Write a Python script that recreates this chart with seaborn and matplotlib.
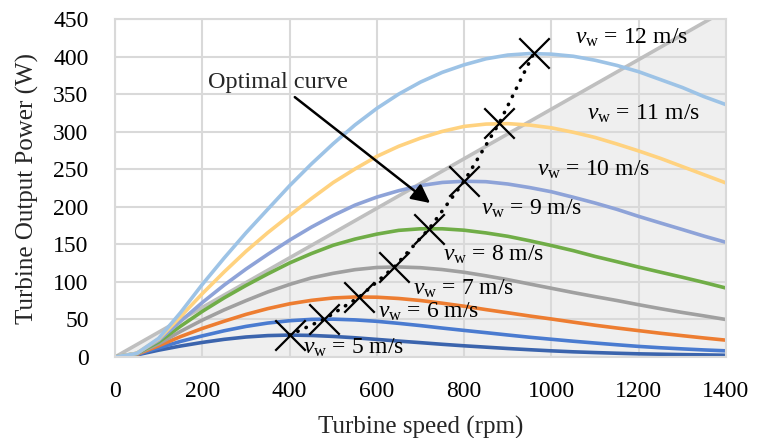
import numpy as np
import pandas as pd
import matplotlib
matplotlib.use("Agg")
import matplotlib.pyplot as plt
import seaborn as sns

# turbine speed grid (rpm)
rpm = [0, 50, 100, 150, 200, 250, 300, 350, 400, 450, 500, 550, 600, 650, 700,
       750, 800, 850, 900, 950, 1000, 1050, 1100, 1150, 1200, 1250, 1300, 1350, 1400]

# turbine output power (W), one list per wind speed
p5 = [0, 2.8, 9.1, 14.6, 19.4, 23.5, 26.6, 28.5, 29.2, 28.7, 27.4, 25.6, 23.4, 21.2, 19.1,
      16.9, 14.9, 13.1, 11.3, 9.7, 8.2, 6.9, 5.9, 5.0, 4.2, 3.7, 3.2, 2.8, 2.3]
p6 = [0, 3.1, 12.1, 20.7, 28.1, 34.9, 40.7, 45.2, 48.3, 50.1, 50.4, 49.4, 47.5, 44.8, 41.8,
      38.5, 35.4, 32.4, 29.3, 26.3, 23.6, 21.0, 18.6, 16.3, 14.1, 12.3, 10.8, 9.4, 8.2]
p7 = [0, 3.6, 14.9, 27.1, 38.0, 47.6, 56.7, 64.4, 70.8, 75.4, 78.6, 79.9, 79.6, 77.9, 75.2,
      71.6, 67.6, 63.1, 58.9, 54.6, 50.6, 46.4, 42.3, 38.6, 35.1, 31.6, 28.4, 25.3, 22.4]
p8 = [0, 4.2, 17.5, 34.0, 49.1, 62.7, 75.0, 86.6, 96.6, 105.3, 111.4, 116.3, 119.2, 119.9, 118.9,
      116.4, 112.8, 108.1, 103.0, 97.2, 91.5, 85.8, 80.4, 75.2, 69.6, 64.3, 59.3, 54.7, 49.9]
p9 = [0, 4.7, 20.0, 40.9, 60.7, 78.7, 95.2, 110.6, 125.2, 137.7, 148.8, 157.0, 163.6, 168.6, 170.7,
      170.7, 168.8, 165.2, 160.7, 154.8, 148.4, 141.6, 133.9, 126.9, 119.7, 112.9, 106.2, 99.2, 91.8]
p10 = [0, 4.9, 22.2, 47.4, 72.5, 95.7, 117.0, 136.7, 155.6, 172.9, 188.4, 202.2, 212.9, 221.4, 228.2,
       232.4, 234.0, 233.4, 230.3, 225.6, 220.0, 212.7, 205.0, 196.6, 187.2, 178.4, 169.7, 160.9, 152.7]
p11 = [0, 5.0, 23.9, 53.5, 84.3, 113.2, 140.6, 165.5, 188.5, 210.9, 232.3, 250.4, 267.1, 280.5, 291.4,
       300.4, 307.0, 310.1, 310.7, 308.8, 305.1, 299.2, 292.3, 283.6, 274.3, 264.4, 253.5, 242.6, 231.7]
p12 = [0, 4.8, 24.8, 59.0, 96.6, 131.7, 165.2, 196.7, 228.0, 257.0, 284.0, 309.0, 331.0, 350.0, 366.0,
       379.0, 389.0, 397.0, 402.0, 404.0, 403.2, 400.4, 395.1, 388.2, 379.8, 369.3, 358.8, 346.6, 336.0]

wind_speeds = [5, 6, 7, 8, 9, 10, 11, 12]
curve_colors = ['#3B64AD', '#4A7BD0', '#ED7D31', '#A0A0A0',
                '#70AD47', '#8EA3D8', '#FFD27F', '#9DC3E6']

# optimal (max power) points
opt_rpm = [400, 480, 560, 640, 720, 800, 880, 960]
opt_power = [29.2, 50.5, 80, 120, 171, 234, 311, 405]

# speed limit line
limit_rpm = [0, 1400]
limit_power = [0, 462]

# label anchors (rpm, W) for the v_w texts
label_x = [431, 603, 683, 752, 839, 967, 1082, 1054]
label_y = [4, 52, 83, 128, 189, 242, 316, 417]

rows = []
for v, p in zip(wind_speeds, [p5, p6, p7, p8, p9, p10, p11, p12]):
    for x, y in zip(rpm, p):
        rows.append({"rpm": x, "power": y, "vw": v})
df = pd.DataFrame(rows)

sns.set_theme(style="whitegrid")
plt.rcParams['font.family'] = ['Liberation Serif', 'DejaVu Serif']
plt.rcParams['mathtext.fontset'] = 'custom'
plt.rcParams['mathtext.rm'] = 'Liberation Serif'
plt.rcParams['mathtext.it'] = 'Liberation Serif:italic'

fig = plt.figure(figsize=(7.6, 4.38), dpi=100)
ax = fig.add_axes([115/760, 1-357/438, (726-115)/760, (357-19)/438])
ax.set_axisbelow(True)

ax.fill_between(limit_rpm, limit_power, 0, color='#EFEFEF', lw=0, zorder=0.2)
ax.plot(limit_rpm, limit_power, color='#BFBFBF', linewidth=2.6, zorder=1)

sns.lineplot(data=df, x="rpm", y="power", hue="vw", palette=curve_colors,
             linewidth=2.6, legend=False, estimator=None, sort=False, ax=ax, zorder=2)

ax.plot(opt_rpm, opt_power, color='black', linewidth=2.6, linestyle=(0, (0.1, 2.4)),
        dash_capstyle='round', zorder=3)
sns.scatterplot(x=opt_rpm, y=opt_power, marker='x', s=480, color='black',
                linewidth=1.6, ax=ax, zorder=4)

for v, x, y in zip(wind_speeds, label_x, label_y):
    ax.text(x, y, r'$v_{\mathrm{w}}$ = %d m/s' % v, fontsize=17,
            ha='left', va='baseline', color='black', zorder=5)

ax.annotate('', xy=(722, 205), xytext=(412, 346),
            arrowprops=dict(arrowstyle='-|>', color='black', lw=1.8,
                            mutation_scale=28, shrinkA=0, shrinkB=0), zorder=5)
ax.text(212, 358, 'Optimal curve', fontsize=17.5, ha='left', va='baseline')

ax.set_xlim(0, 1400)
ax.set_ylim(0, 450)
ax.set_xticks([0, 200, 400, 600, 800, 1000, 1200, 1400])
ax.set_yticks([0, 50, 100, 150, 200, 250, 300, 350, 400, 450])
ax.grid(True, color='#D9D9D9', lw=1.5)
for s in ax.spines.values():
    s.set_color('#D9D9D9')
    s.set_linewidth(1.5)
ax.tick_params(axis='both', length=0, labelsize=17, colors='black')
ax.tick_params(axis='y', pad=19)
ax.tick_params(axis='x', pad=17)
ax.set_xlabel('Turbine speed (rpm)', fontsize=18, labelpad=10)
ax.set_ylabel('Turbine Output Power (W)', fontsize=18, labelpad=10)

fig.savefig('out.png', dpi=100)
